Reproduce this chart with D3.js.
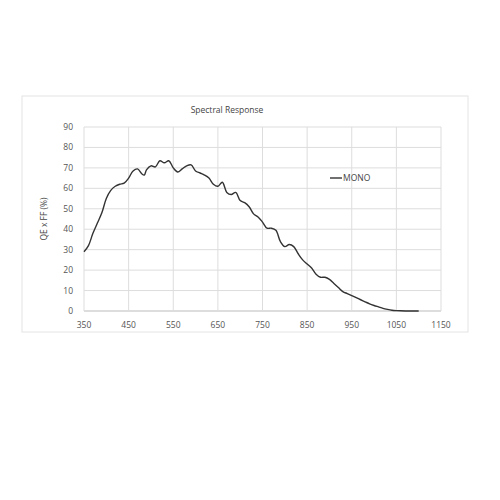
<!DOCTYPE html>
<html><head><meta charset="utf-8">
<script src="https://cdn.jsdelivr.net/npm/d3@7"></script>
<style>body{margin:0;background:#fff}</style>
</head><body>
<svg id="chart" width="500" height="500"></svg>
<script>
// wavelength (nm) and QE x FF (%)
var wavelengths = [350,360,370,380,390,400,410,420,430,440,450,460,470,480,485,490,500,510,520,530,540,550,560,570,580,590,600,610,620,630,640,650,660,670,680,690,700,710,720,730,740,750,760,770,780,790,800,810,820,830,840,850,860,870,880,890,900,910,920,930,940,950,960,970,980,990,1000,1010,1020,1030,1040,1050,1060,1080,1100];
var mono = [29,32,38,43,48,55,59,61,62,62.5,65,68.5,69.5,67,66.5,69,71,70.5,73.5,72.5,73.5,70,68,69.5,71,71.5,68.5,67.5,66.5,65,62,61,63,58,57,58,54,53,51,47.5,46,43.5,40.5,40.5,39.5,34,31.5,32.5,31.5,28,25,23,21,18,16.5,16.5,15.5,13.5,11.5,9.5,8.5,7.5,6.5,5.5,4.5,3.5,2.7,2,1.3,0.8,0.4,0.2,0.1,0,0];
var xTicks = [350,450,550,650,750,850,950,1050,1150];
var yTicks = [0,10,20,30,40,50,60,70,80,90];

var svg = d3.select("#chart");
var font = "Open Sans, Liberation Sans, sans-serif";

// chart frame
svg.append("rect").attr("x",22).attr("y",96).attr("width",446).attr("height",236)
    .attr("fill","#fff").attr("stroke","#e4e4e4");

var x = d3.scaleLinear().domain([350,1150]).range([84,441]);
var y = d3.scaleLinear().domain([0,90]).range([311,127]);

var g = svg.append("g");

g.selectAll(".hg").data(yTicks).enter().append("line")
    .attr("x1",x(350)).attr("x2",x(1150))
    .attr("y1",d=>y(d)).attr("y2",d=>y(d))
    .attr("stroke",d=>d==0?"#bbb":"#ddd");
g.selectAll(".vg").data(xTicks).enter().append("line")
    .attr("y1",y(0)).attr("y2",y(90))
    .attr("x1",d=>x(d)).attr("x2",d=>x(d))
    .attr("stroke","#ddd");

g.selectAll(".yl").data(yTicks).enter().append("text")
    .attr("x",x(350)-11).attr("y",d=>y(d)+3)
    .attr("text-anchor","end").attr("font-family",font).attr("font-size",8.5).attr("fill","#555")
    .text(d=>d);
g.selectAll(".xl").data(xTicks).enter().append("text")
    .attr("x",d=>x(d)).attr("y",y(0)+17)
    .attr("text-anchor","middle").attr("font-family",font).attr("font-size",8.5).attr("fill","#555")
    .text(d=>d);

svg.append("text").attr("x",227).attr("y",113).attr("text-anchor","middle")
    .attr("font-family",font).attr("font-size",8.5).attr("fill","#444").text("Spectral Response");
svg.append("text").attr("transform","translate(47,219) rotate(-90)").attr("text-anchor","middle")
    .attr("font-family",font).attr("font-size",8.5).attr("fill","#444").text("QE x FF (%)");

var line = d3.line().x(d=>x(d[0])).y(d=>y(d[1])).curve(d3.curveCatmullRom);
svg.append("path").datum(d3.zip(wavelengths, mono))
    .attr("d",line).attr("fill","none").attr("stroke","#333").attr("stroke-width",1.4);

// legend
svg.append("line").attr("x1",330).attr("x2",342).attr("y1",178).attr("y2",178)
    .attr("stroke","#333").attr("stroke-width",1.4);
svg.append("text").attr("x",343).attr("y",181).attr("font-family",font).attr("font-size",8.5)
    .attr("fill","#444").text("MONO");
</script>
</body></html>
